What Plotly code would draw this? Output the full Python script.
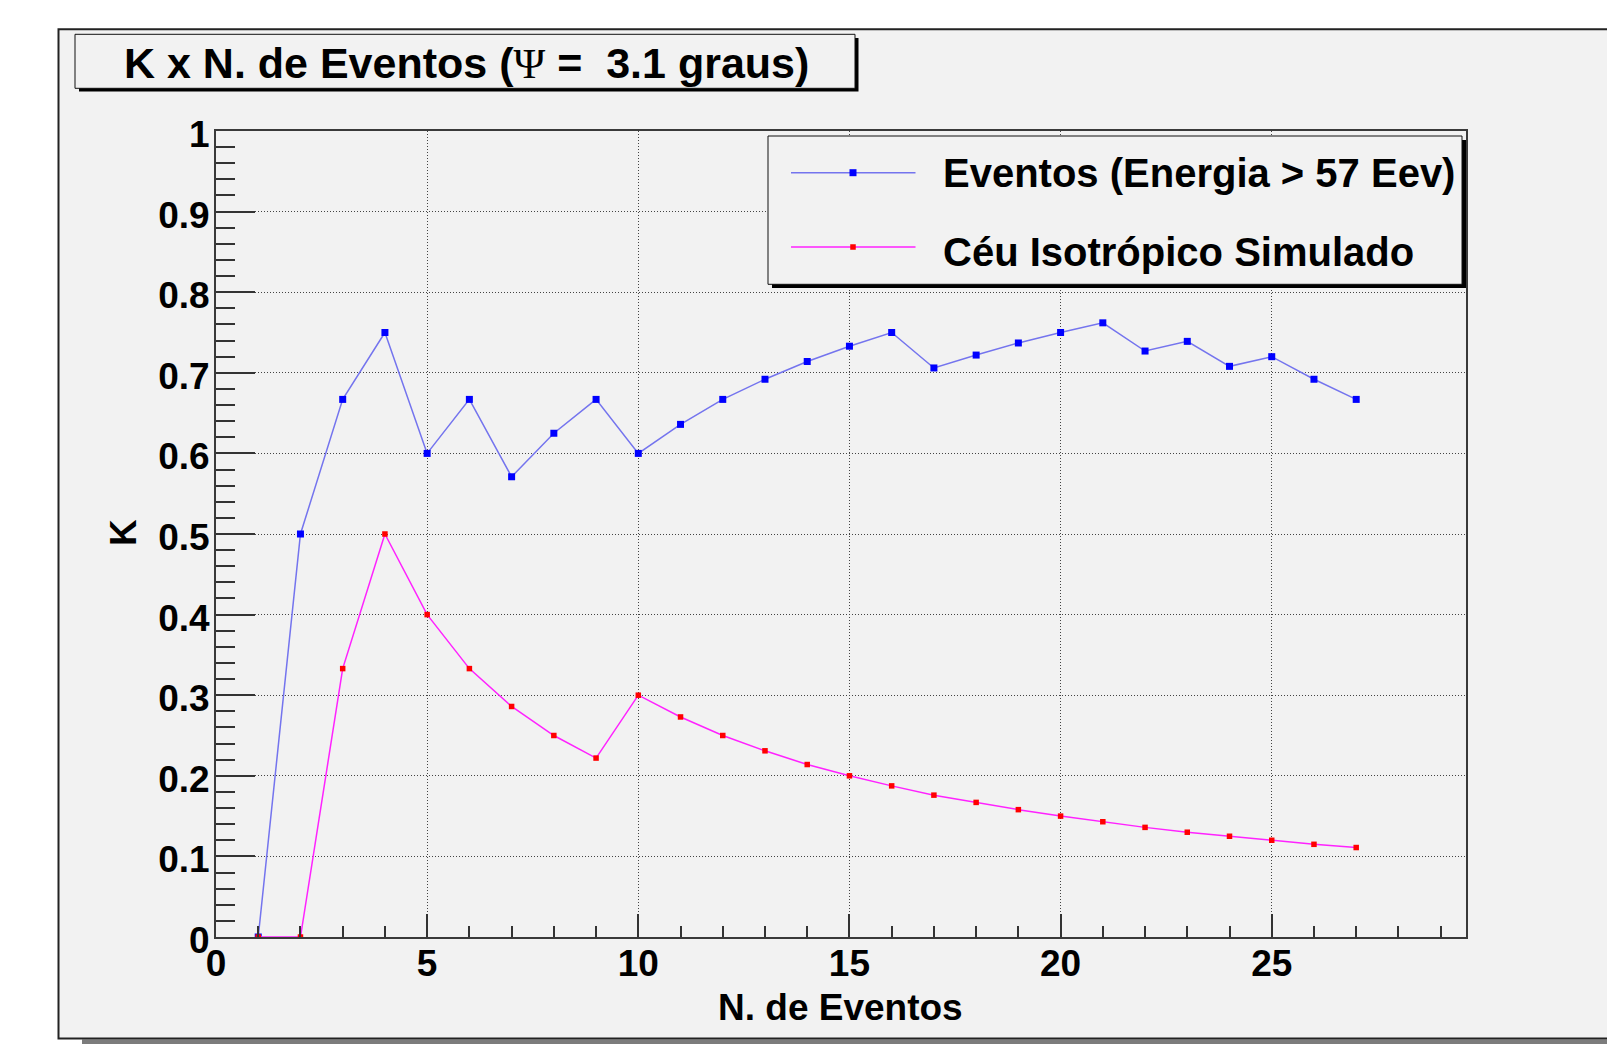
import plotly.graph_objects as go

# ---------------- data ----------------
n_eventos = list(range(1, 28))
k_eventos = [0.0, 0.5, 0.667, 0.75, 0.6, 0.667, 0.571, 0.625, 0.667, 0.6,
             0.636, 0.667, 0.692, 0.714, 0.733, 0.75, 0.706, 0.722, 0.737, 0.75,
             0.762, 0.727, 0.739, 0.708, 0.72, 0.692, 0.667]
k_isotropico = [0.0, 0.0, 0.333, 0.5, 0.4, 0.333, 0.286, 0.25, 0.222, 0.3,
                0.273, 0.25, 0.231, 0.214, 0.2, 0.1875, 0.176, 0.167, 0.158, 0.15,
                0.143, 0.136, 0.130, 0.125, 0.12, 0.115, 0.111]
serie_nomes = ["Eventos (Energia > 57 Eev)", "Céu Isotrópico Simulado"]
x_tickvals = [0, 5, 10, 15, 20, 25]
x_ticktext = ["0", "5", "10", "15", "20", "25"]
y_tickvals = [0, 0.1, 0.2, 0.3, 0.4, 0.5, 0.6, 0.7, 0.8, 0.9, 1.0]
y_ticktext = ["0", "0.1", "0.2", "0.3", "0.4", "0.5", "0.6", "0.7", "0.8", "0.9", "1"]
titulo = "K x N. de Eventos ("
x_titulo = "N. de Eventos"
y_titulo = "K"

# ---------------- geometry ----------------
W_FIG, H_FIG = 1607, 1044
L, R, T, B = 216, 141, 131, 107
PW = W_FIG - L - R
PH = H_FIG - T - B


def X(px):  # page pixel -> paper x
    return (px - L) / PW


def Y(py):  # page pixel -> paper y
    return (H_FIG - B - py) / PH


BG = "#f2f2f2"
FONT = "Liberation Sans, Arial, Helvetica, sans-serif"

fig = go.Figure()
fig.add_trace(go.Scatter(
    x=n_eventos, y=k_eventos, mode="lines+markers", name=serie_nomes[0],
    line=dict(color="#7474ee", width=1.5),
    marker=dict(symbol="square", size=7, color="#0000ff", line=dict(width=0)),
))
fig.add_trace(go.Scatter(
    x=n_eventos, y=k_isotropico, mode="lines+markers", name=serie_nomes[1],
    line=dict(color="#ff22ff", width=1.5),
    marker=dict(symbol="square", size=5.5, color="#ff0000", line=dict(width=0)),
))

shapes = []
# canvas
shapes.append(dict(type="rect", xref="paper", yref="paper", layer="below",
                   x0=X(82), x1=X(1640), y0=Y(1039.5), y1=Y(1060),
                   fillcolor="#7c7c7c", line=dict(width=0)))
shapes.append(dict(type="rect", xref="paper", yref="paper", layer="below",
                   x0=X(58.5), x1=X(1640), y0=Y(1038.5), y1=Y(29.3),
                   fillcolor=BG, line=dict(color="#222222", width=2)))
# title box with shadow
shapes.append(dict(type="rect", xref="paper", yref="paper", layer="below",
                   x0=X(79), x1=X(858.5), y0=Y(91.5), y1=Y(38),
                   fillcolor="#000000", line=dict(width=0)))
shapes.append(dict(type="rect", xref="paper", yref="paper", layer="below",
                   x0=X(75), x1=X(855), y0=Y(88.3), y1=Y(34.3),
                   fillcolor=BG, line=dict(color="#111111", width=1)))
# legend box with shadow
shapes.append(dict(type="rect", xref="paper", yref="paper", layer="above",
                   x0=X(772), x1=X(1466), y0=Y(288), y1=Y(140),
                   fillcolor="#000000", line=dict(width=0)))
shapes.append(dict(type="rect", xref="paper", yref="paper", layer="above",
                   x0=X(768), x1=X(1462), y0=Y(284.3), y1=Y(136),
                   fillcolor=BG, line=dict(color="#111111", width=1)))
# legend samples
leg_rows = [(172.7, "#7474ee", "#0000ff", 7), (247, "#ff22ff", "#ff0000", 5.5)]
for yy, lc, mc, ms in leg_rows:
    shapes.append(dict(type="line", xref="paper", yref="paper", layer="above",
                       x0=X(791), x1=X(915.5), y0=Y(yy), y1=Y(yy),
                       line=dict(color=lc, width=1.5)))
    shapes.append(dict(type="rect", xref="paper", yref="paper", layer="above",
                       x0=X(853 - ms / 2), x1=X(853 + ms / 2),
                       y0=Y(yy + ms / 2), y1=Y(yy - ms / 2),
                       fillcolor=mc, line=dict(width=0)))

annotations = []
annotations.append(dict(
    xref="paper", yref="paper", x=X(466), y=Y(63), xanchor="center", yanchor="middle",
    showarrow=False,
    text=titulo + "<span style=\"font-family:'Liberation Serif', 'Times New Roman', serif;font-weight:normal\">\u03a8</span> = \u00a03.1 graus)",
    font=dict(family=FONT, size=43, color="#000000", weight="bold")))
for nome, ty in zip(serie_nomes, [173.5, 252]):
    annotations.append(dict(
        xref="paper", yref="paper", x=X(941), y=Y(ty), xanchor="left", yanchor="middle",
        showarrow=False, text=nome,
        font=dict(family=FONT, size=40, color="#000000", weight="bold")))
annotations.append(dict(
    xref="paper", yref="paper", x=X(840), y=Y(1008), xanchor="center", yanchor="middle",
    showarrow=False, text=x_titulo,
    font=dict(family=FONT, size=37, color="#000000", weight="bold")))
annotations.append(dict(
    xref="paper", yref="paper", x=X(123), y=Y(533), xanchor="center", yanchor="middle",
    showarrow=False, text=y_titulo, textangle=-90,
    font=dict(family=FONT, size=37, color="#000000", weight="bold")))

axis_common = dict(
    showline=True, linecolor="#3a3a3a", linewidth=2, mirror=True,
    ticks="inside", tickcolor="#333333", tickwidth=2,
    showgrid=True, gridcolor="#444444", gridwidth=1, griddash="1px,2px",
    zeroline=False,
    tickfont=dict(family=FONT, size=37, color="#000000", weight="bold"),
)

fig.update_layout(
    width=W_FIG, height=H_FIG,
    margin=dict(l=L, r=R, t=T, b=B, pad=0),
    paper_bgcolor="#ffffff", plot_bgcolor="rgba(0,0,0,0)",
    showlegend=False,
    shapes=shapes, annotations=annotations,
    xaxis=dict(range=[0, 29.6], tickmode="array", tickvals=x_tickvals, ticktext=x_ticktext,
               ticklen=23, ticklabelstandoff=-7,
               minor=dict(tickmode="linear", tick0=0, dtick=1, ticks="inside", ticklen=11,
                          tickcolor="#333333", tickwidth=2, showgrid=False),
               **axis_common),
    yaxis=dict(range=[0, 1], tickmode="array", tickvals=y_tickvals, ticktext=y_ticktext,
               ticklen=39, ticklabelshift=3, ticklabelstandoff=-3,
               minor=dict(tickmode="linear", tick0=0, dtick=0.02, ticks="inside", ticklen=19,
                          tickcolor="#333333", tickwidth=2, showgrid=False),
               **axis_common),
)

fig.write_html("out.html", config={"displayModeBar": False},
               post_script="document.body.style.margin='0';document.body.style.overflow='hidden';")
